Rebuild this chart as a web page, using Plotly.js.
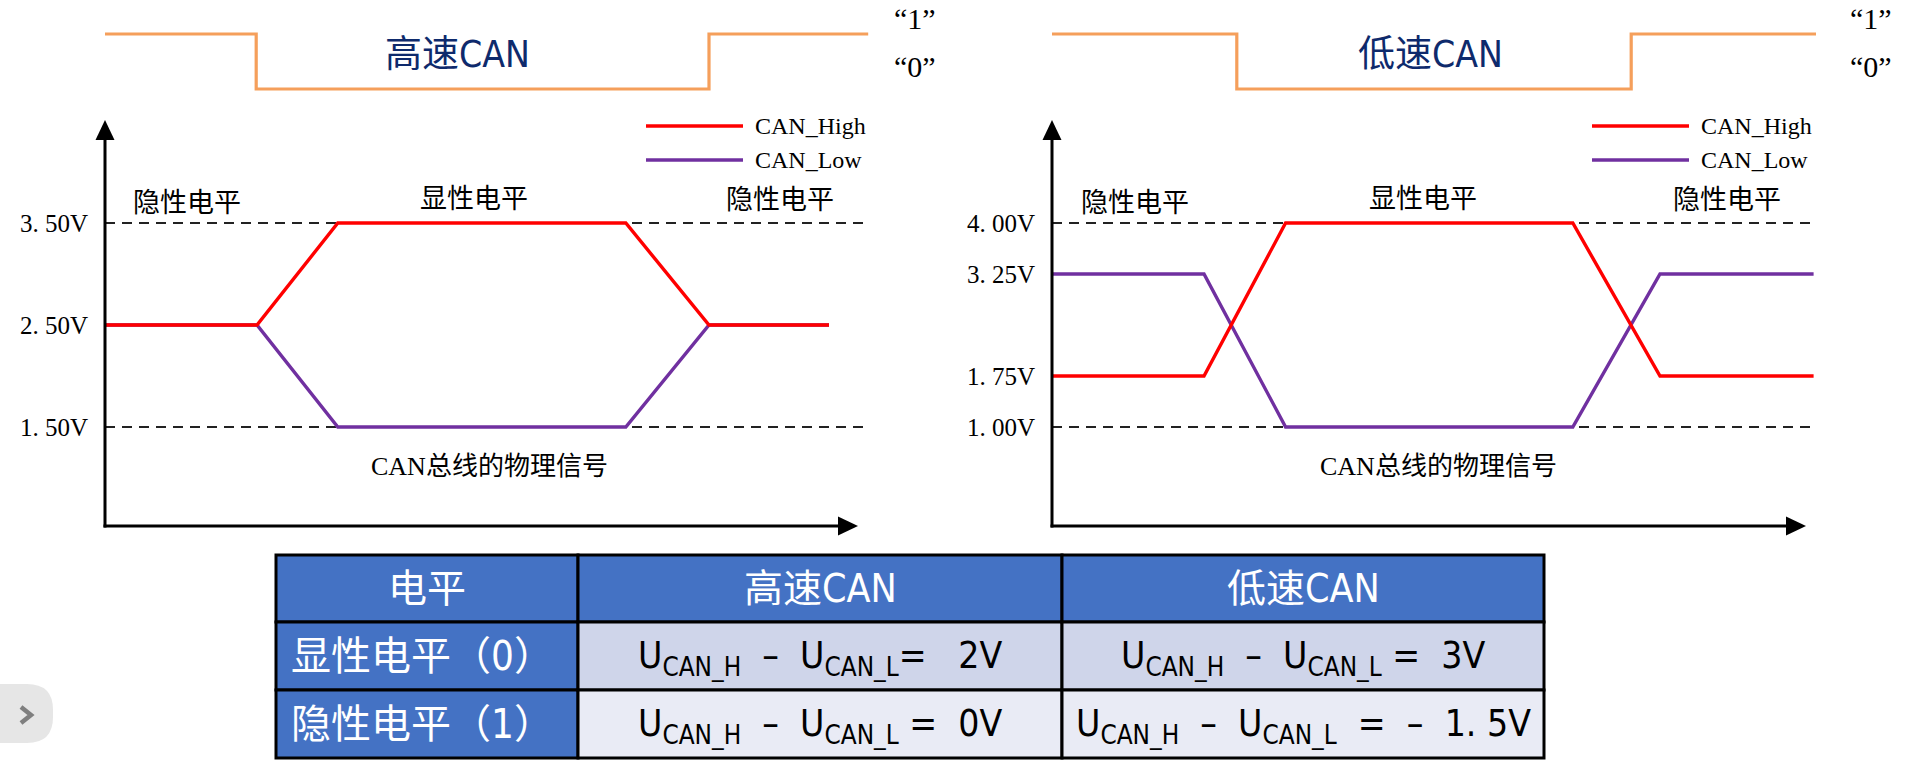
<!DOCTYPE html>
<html>
<head>
<meta charset="utf-8">
<script src="https://cdn.plot.ly/plotly-3.0.1.min.js"></script>
<style>html,body{margin:0;padding:0;background:#fff;}#chart{width:1920px;height:770px;}</style>
</head>
<body>
<div id="chart"></div>
<script>
// ---------------- data ----------------
const chartTitles = ['高速CAN', '低速CAN'];
const bitLabels = ['“1”', '“0”'];
const levelLabels = ['隐性电平', '显性电平', '隐性电平'];
const busLabel = 'CAN总线的物理信号';
const seriesNames = ['CAN_High', 'CAN_Low'];

// high speed CAN
const hsTime = [0, 1.9, 2.91, 6.51, 7.55, 9.05];
const hsHigh = [2.5, 2.5, 3.5, 3.5, 2.5, 2.5];
const hsLow  = [2.5, 2.5, 1.5, 1.5, 2.5, 2.5];
const hsTicks = [1.5, 2.5, 3.5];
const hsTickText = ['1. 50V', '2. 50V', '3. 50V'];
const hsRefLevels = [3.5, 1.5];
const hsBitTime = [0, 1.89, 7.55, 9.54];
const hsBit = [1, 0, 1, 1];

// low speed CAN
const lsTime = [0, 1.9, 2.92, 6.51, 7.6, 9.52];
const lsHigh = [1.75, 1.75, 4.0, 4.0, 1.75, 1.75];
const lsLow  = [3.25, 3.25, 1.0, 1.0, 3.25, 3.25];
const lsTicks = [1.0, 1.75, 3.25, 4.0];
const lsTickText = ['1. 00V', '1. 75V', '3. 25V', '4. 00V'];
const lsRefLevels = [4.0, 1.0];
const lsBitTime = [0, 2.31, 7.24, 9.55];
const lsBit = [1, 0, 1, 1];

// table
const tableHeader = ['电平', '高速CAN', '低速CAN'];
const tableRowLabels = ['显性电平（0）', '隐性电平（1）'];
const tableHS = [
  'U<sub>CAN_H</sub>\u00a0\u00a0–\u00a0\u00a0U<sub>CAN_L</sub>=\u00a0\u00a0\u00a02V',
  'U<sub>CAN_H</sub>\u00a0\u00a0–\u00a0\u00a0U<sub>CAN_L</sub>\u00a0=\u00a0\u00a00V'
];
const tableLS = [
  'U<sub>CAN_H</sub>\u00a0\u00a0–\u00a0\u00a0U<sub>CAN_L</sub>\u00a0=\u00a0\u00a03V',
  'U<sub>CAN_H</sub>\u00a0\u00a0–\u00a0\u00a0U<sub>CAN_L</sub>\u00a0\u00a0=\u00a0\u00a0–\u00a0\u00a01.\u00a05V'
];

// ---------------- styling ----------------
const W = 1920, H = 770;
const px = x => x / W;
const py = y => 1 - y / H;
const RED = '#FF0000', PURPLE = '#7030A0', ORANGE = '#F59F5B', NAVY = '#0E2A6C';
const BLUE = '#4472C4', ROW1 = '#CFD5EA', ROW2 = '#E9EBF5';
const SERIF = 'Liberation Serif, Noto Sans CJK SC, serif';
const SANS = 'Liberation Sans Narrow, DejaVu Sans Condensed, Noto Sans CJK SC, sans-serif';

// pixel geometry of the two panels
const panels = [
  {x: 'x', y: 'y', yd: 'y3', x0px: 105, arrowEnd: 858, vTop: 3.5, vBot: 1.5, pxTop: 223, pxBot: 427,
   time: hsTime, high: hsHigh, low: hsLow, ticks: hsTicks, tickText: hsTickText, ref: hsRefLevels,
   bitT: hsBitTime, bit: hsBit, title: chartTitles[0], titleX: 457, bitX: 915,
   labelX: [187, 474, 780], busX: 490, legX: 646},
  {x: 'x2', y: 'y2', yd: 'y4', x0px: 1052, arrowEnd: 1806, vTop: 4.0, vBot: 1.0, pxTop: 223, pxBot: 427,
   time: lsTime, high: lsHigh, low: lsLow, ticks: lsTicks, tickText: lsTickText, ref: lsRefLevels,
   bitT: lsBitTime, bit: lsBit, title: chartTitles[1], titleX: 1430, bitX: 1871,
   labelX: [1135, 1423, 1727], busX: 1438, legX: 1592}
];
const UNIT = 80;            // px per time unit
const AX_TOP = 120, AX_BOT = 526, DOM_TOP = 110, DOM_BOT = 536;
const HEAD_L = 20, HEAD_W = 9.5;

const traces = [];
const shapes = [];
const annotations = [];
const layout = {
  width: W, height: H,
  margin: {l: 0, r: 0, t: 0, b: 0},
  paper_bgcolor: '#ffffff', plot_bgcolor: 'rgba(0,0,0,0)',
  showlegend: false,
  shapes: shapes, annotations: annotations
};

panels.forEach((p, i) => {
  const xaName = i === 0 ? 'xaxis' : 'xaxis2';
  const yaName = i === 0 ? 'yaxis' : 'yaxis2';
  const ydName = i === 0 ? 'yaxis3' : 'yaxis4';
  const domL = p.x0px - 16, domR = p.x0px + 780;
  const ppv = (p.pxBot - p.pxTop) / (p.vTop - p.vBot);
  const v = pxY => p.vBot + (p.pxBot - pxY) / ppv;
  layout[xaName] = {domain: [px(domL), px(domR)], range: [-16 / UNIT, 780 / UNIT],
    visible: false, anchor: p.y, fixedrange: true};
  layout[yaName] = {domain: [py(DOM_BOT), py(DOM_TOP)], range: [v(DOM_BOT), v(DOM_TOP)],
    anchor: p.x, showgrid: false, zeroline: false, showline: false, ticks: '',
    tickvals: p.ticks, ticktext: p.tickText, ticklabelstandoff: 0,
    tickfont: {family: SERIF, size: 25, color: '#000'}, fixedrange: true};
  // digital bit signal axis: 1 -> 34px, 0 -> 89px
  const bpp = 55;
  layout[ydName] = {domain: [py(100), py(20)], range: [-(100 - 89) / bpp, 1 + (34 - 20) / bpp],
    anchor: p.x, visible: false, fixedrange: true};

  // bit signal
  traces.push({type: 'scatter', mode: 'lines', x: p.bitT, y: p.bit, xaxis: p.x, yaxis: p.yd,
    line: {color: ORANGE, width: 3.2, shape: 'hv'}, hoverinfo: 'skip'});
  // bus lines
  traces.push({type: 'scatter', mode: 'lines', name: seriesNames[1], x: p.time, y: p.low,
    xaxis: p.x, yaxis: p.y, line: {color: PURPLE, width: 3.4}, hoverinfo: 'skip'});
  traces.push({type: 'scatter', mode: 'lines', name: seriesNames[0], x: p.time, y: p.high,
    xaxis: p.x, yaxis: p.y, line: {color: RED, width: 3.4}, hoverinfo: 'skip'});

  // dashed reference levels
  p.ref.forEach(lv => shapes.push({type: 'line', xref: p.x, yref: p.y, x0: 0, x1: 9.5, y0: lv, y1: lv,
    layer: 'below', line: {color: '#222', width: 2, dash: '10px,7px'}}));

  // axes with arrow heads
  const ax0 = p.x0px;
  shapes.push({type: 'line', xref: 'paper', yref: 'paper', x0: px(ax0), x1: px(ax0), y0: py(AX_BOT + 1.5), y1: py(AX_TOP + HEAD_L - 1),
    line: {color: '#000', width: 3}});
  shapes.push({type: 'path', xref: 'paper', yref: 'paper', fillcolor: '#000', line: {width: 0},
    path: `M ${px(ax0)} ${py(AX_TOP)} L ${px(ax0 + HEAD_W)} ${py(AX_TOP + HEAD_L)} L ${px(ax0 - HEAD_W)} ${py(AX_TOP + HEAD_L)} Z`});
  shapes.push({type: 'line', xref: 'paper', yref: 'paper', x0: px(ax0 - 1.5), x1: px(p.arrowEnd - HEAD_L + 1), y0: py(AX_BOT), y1: py(AX_BOT),
    line: {color: '#000', width: 3}});
  shapes.push({type: 'path', xref: 'paper', yref: 'paper', fillcolor: '#000', line: {width: 0},
    path: `M ${px(p.arrowEnd)} ${py(AX_BOT)} L ${px(p.arrowEnd - HEAD_L)} ${py(AX_BOT - HEAD_W)} L ${px(p.arrowEnd - HEAD_L)} ${py(AX_BOT + HEAD_W)} Z`});

  // titles & bit labels
  annotations.push({xref: 'paper', yref: 'paper', x: px(p.titleX), y: py(55), text: p.title, showarrow: false,
    font: {family: SANS, size: 37, color: NAVY}, xanchor: 'center', yanchor: 'middle'});
  annotations.push({xref: 'paper', yref: 'paper', x: px(p.bitX), y: py(19), text: bitLabels[0], showarrow: false,
    font: {family: SERIF, size: 30, color: '#000'}, xanchor: 'center', yanchor: 'middle'});
  annotations.push({xref: 'paper', yref: 'paper', x: px(p.bitX), y: py(67), text: bitLabels[1], showarrow: false,
    font: {family: SERIF, size: 30, color: '#000'}, xanchor: 'center', yanchor: 'middle'});

  // level labels
  const labelY = [203, 199, 200];
  levelLabels.forEach((t, k) => annotations.push({xref: 'paper', yref: 'paper', x: px(p.labelX[k]), y: py(labelY[k]),
    text: t, showarrow: false, font: {family: SERIF, size: 27, color: '#000'}, xanchor: 'center', yanchor: 'middle'}));
  annotations.push({xref: 'paper', yref: 'paper', x: px(p.busX), y: py(466), text: busLabel, showarrow: false,
    font: {family: SERIF, size: 26, color: '#000'}, xanchor: 'center', yanchor: 'middle'});

  // legend
  [[RED, 126, seriesNames[0]], [PURPLE, 160, seriesNames[1]]].forEach(([c, yy, name]) => {
    shapes.push({type: 'line', xref: 'paper', yref: 'paper', x0: px(p.legX), x1: px(p.legX + 97), y0: py(yy), y1: py(yy),
      line: {color: c, width: 3.4}});
    annotations.push({xref: 'paper', yref: 'paper', x: px(p.legX + 107), y: py(yy), text: name, showarrow: false,
      font: {family: SERIF, size: 24, color: '#000'}, xanchor: 'left', yanchor: 'middle'});
  });
});

// ---------------- table (cells as shapes, text as annotations) ----------------
const colEdges = [276, 578, 1062, 1544];
const rowEdges = [555, 622, 690, 758];
const columns = [[tableHeader[0], ...tableRowLabels], [tableHeader[1], ...tableHS], [tableHeader[2], ...tableLS]];
const rowFill = [ROW1, ROW2];
columns.forEach((col, c) => {
  col.forEach((txt, r) => {
    const x0 = colEdges[c], x1 = colEdges[c + 1], y0 = rowEdges[r], y1 = rowEdges[r + 1];
    const isBlue = r === 0 || c === 0;
    shapes.push({type: 'rect', xref: 'paper', yref: 'paper', x0: px(x0), x1: px(x1), y0: py(y1), y1: py(y0),
      fillcolor: isBlue ? BLUE : rowFill[r - 1], line: {color: '#000', width: 3}});
    const left = c === 0 && r > 0;
    const yc = (y0 + y1) / 2 + (r > 0 && c > 0 ? 2 : 0);
    const size = (r > 0 && c > 0) ? 37 : (r === 0 ? 39 : 40);
    annotations.push({xref: 'paper', yref: 'paper', x: px(left ? x0 + 13 : (x0 + x1) / 2), y: py(yc),
      text: txt, showarrow: false, xanchor: left ? 'left' : 'center', yanchor: 'middle',
      font: {family: SANS, size: size, color: isBlue ? '#fff' : '#000'}});
  });
});

// page side tab (screenshot artefact)
shapes.push({type: 'path', xref: 'paper', yref: 'paper', fillcolor: '#E6E6E6', line: {width: 0},
  path: `M ${px(0)} ${py(684)} L ${px(27)} ${py(684)} Q ${px(53)} ${py(684)} ${px(53)} ${py(710)} L ${px(53)} ${py(717)} Q ${px(53)} ${py(743)} ${px(27)} ${py(743)} L ${px(0)} ${py(743)} Z`});
shapes.push({type: 'path', xref: 'paper', yref: 'paper', line: {color: '#7F7F7F', width: 4.5},
  path: `M ${px(21)} ${py(707)} L ${px(31)} ${py(715)} L ${px(21)} ${py(723)}`});

Plotly.newPlot('chart', traces, layout, {staticPlot: true, displayModeBar: false});
</script>
</body>
</html>
